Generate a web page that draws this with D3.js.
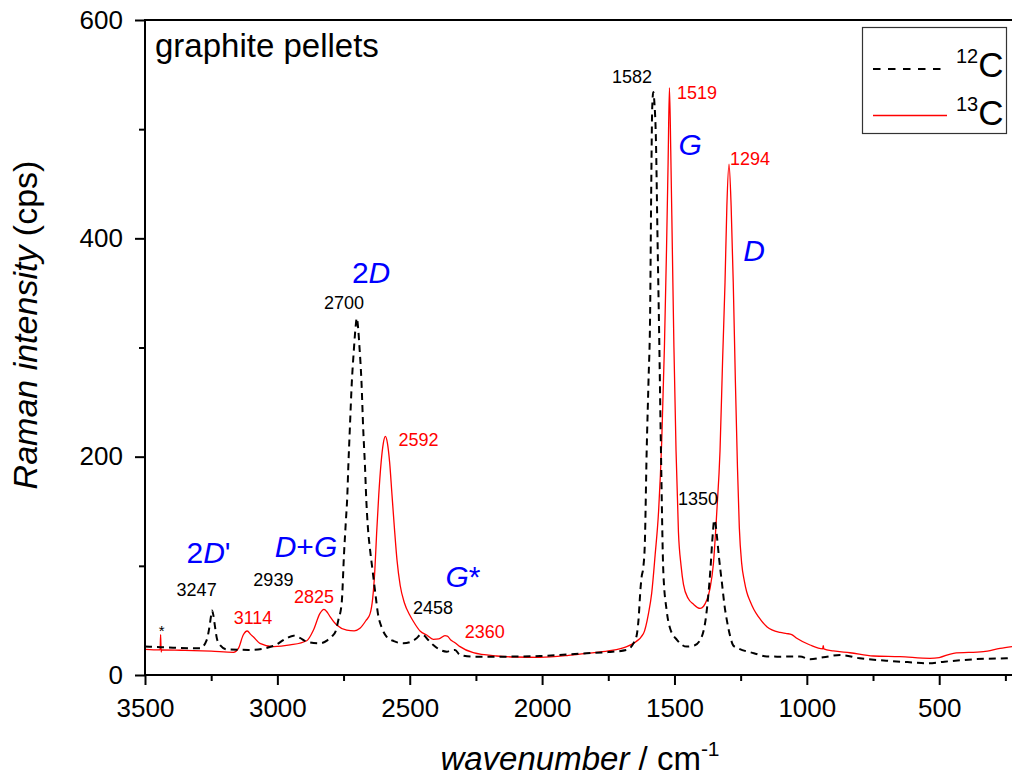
<!DOCTYPE html>
<html><head><meta charset="utf-8">
<script src="https://cdn.jsdelivr.net/npm/d3@7"></script>
<style>
body{margin:0;background:#fff;}
svg{display:block;font-family:Arial,"Liberation Sans",sans-serif;}
</style>
</head><body>
<svg id="chart" width="1012" height="780"></svg>
<script>
// ---- data ----
const c12Wavenumber = [3500,3440,3394,3292,3267,3256,3250,3247,3242,3236,3228,3217,3191,3103,3016,2965,2939,2915,2889,2839,2810,2795,2780,2770,2757,2748,2741,2736,2732,2726,2719,2711,2704,2700,2695,2690,2682,2676,2669,2664,2658,2650,2640,2630,2620,2605,2587,2560,2524,2490,2474,2458,2448,2430,2411,2385,2360,2345,2329,2310,2260,2172,2008,1831,1750,1680,1655,1643,1636,1628,1624,1618,1612,1605,1598,1592,1588,1584,1580,1576,1570,1564,1558,1551,1542,1530,1517,1490,1454,1425,1403,1380,1365,1355,1350,1346,1340,1332,1321,1310,1302,1290,1278,1260,1200,1151,1100,1026,988,938,874,800,700,600,547,480,370,245,225];
const c12Intensity  = [26,25.5,25,24.4,32,45,55,59,55,45,33,27.5,23.5,23,26.5,33.6,36,34,30.5,29,32,35,40,50,66,112,142,163,191,227,267,298,320,327,318,301,267,227,191,160,135,115,95,75,56,43,35,31,29,31,33.6,37,36.6,32,27.5,23,21.4,22.5,23,18.3,16.8,16.8,17.4,19.9,21,23,29,36,50,80,90,98,120,205,270,330,440,520,534,525,490,400,315,205,94,60,43,32,26,27,32,55,94,130,142,140,128,108,85,62,50,36,27,24.5,20,17,16.8,17,14.4,16.2,18.3,15.3,13.1,11.5,10.7,12.2,14.4,15.3,15.5];

const c13Wavenumber = [3500,3443,3441,3439,3437,3350,3250,3166,3147,3129,3114,3100,3091,3066,3015,2952,2889,2864,2839,2824,2810,2801,2776,2738,2710,2688,2665,2650,2640,2632,2625,2617,2608,2600,2592,2584,2576,2567,2558,2548,2536,2520,2500,2486,2460,2436,2411,2390,2367,2358,2345,2329,2310,2260,2172,2100,2008,1900,1831,1750,1680,1655,1617,1598,1586,1573,1560,1548,1538,1530,1524,1519,1514,1508,1502,1494,1485,1475,1466,1448,1429,1403,1390,1378,1365,1353,1340,1328,1318,1309,1302,1294,1286,1278,1270,1262,1255,1246,1236,1227,1215,1200,1183,1150,1101,1076,1057,1038,988,940,938,936,900,837,749,648,535,500,446,333,270,225];
const c13Intensity  = [23.5,23,37,21,23,22.6,21.8,20.8,24.4,36.6,40.3,37,35,29,26,27.5,31.4,41,56.5,60.2,57,53.4,45.8,41.2,40.5,42.8,50,56,70,95,130,165,195,212,218.5,212,195,165,135,105,82,66,55,49,40,36.6,32.7,33,36,35.7,32,29.6,26,20.4,17.4,16.5,16.2,18,19.9,22,26,29,38,56.5,75,110,150,215,300,390,470,538,480,390,300,205,131,100,83,70,65,61,63,68.7,80,101.7,150,205,290,360,430,468,430,360,270,190,135,102,86,76,68,60,53.4,44,39,38,37,33.6,27.5,24,27,24,22,20.4,17.4,16.8,15.3,16,19.9,21.4,24.4,26];

const xTickValues = [3500,3000,2500,2000,1500,1000,500];
const xMinorTickValues = [3250,2750,2250,1750,1250,750,250];
const yTickValues = [0,200,400,600];
const yMinorTickValues = [100,300,500];

const c12PeakLabels = ["3247","2939","2700","2458","1582","1350"];
const c13PeakLabels = ["3114","2825","2592","2360","1519","1294"];
const bandLabels = ["2D'","D+G","2D","G*","G","D"];

// ---- chart ----
const svg = d3.select("#chart");
const x = d3.scaleLinear().domain([3500, 225]).range([145, 1012]);
const y = d3.scaleLinear().domain([0, 600]).range([675, 20]);

const line = d3.line().x(d => x(d[0])).y(d => y(d[1])).curve(d3.curveMonotoneX);
const c12 = c12Wavenumber.map((w, i) => [w, c12Intensity[i]]);
const c13 = c13Wavenumber.map((w, i) => [w, c13Intensity[i]]);

svg.append("path").datum(c13).attr("d", line)
  .attr("fill", "none").attr("stroke", "#ff0000").attr("stroke-width", 1.3);
svg.append("path").datum(c12).attr("d", line)
  .attr("fill", "none").attr("stroke", "#000").attr("stroke-width", 2)
  .attr("stroke-dasharray", "7,5");

// axes
const xAxis = svg.append("g").attr("transform", "translate(0,675)")
  .call(d3.axisBottom(x).tickValues(xTickValues).tickSize(10).tickPadding(14).tickFormat(d3.format("d")));
const xMinor = svg.append("g").attr("transform", "translate(0,675)")
  .call(d3.axisBottom(x).tickValues(xMinorTickValues).tickSize(6).tickFormat(""));
const yAxis = svg.append("g").attr("transform", "translate(145,0)")
  .call(d3.axisLeft(y).tickValues(yTickValues).tickSize(10).tickPadding(12).tickFormat(d3.format("d")));
const yMinor = svg.append("g").attr("transform", "translate(145,0)")
  .call(d3.axisLeft(y).tickValues(yMinorTickValues).tickSize(6).tickFormat(""));
[xAxis, xMinor, yAxis, yMinor].forEach(g => {
  g.select(".domain").remove();
  g.selectAll(".tick line").attr("stroke", "#000").attr("stroke-width", 2);
  g.selectAll(".tick text").attr("font-size", 26).attr("fill", "#000")
    .attr("font-family", "Arial, 'Liberation Sans', sans-serif");
});

// frame
svg.append("line").attr("x1", 145).attr("x2", 1012).attr("y1", 675).attr("y2", 675).attr("stroke", "#000").attr("stroke-width", 2);
svg.append("line").attr("x1", 145).attr("x2", 145).attr("y1", 20).attr("y2", 676).attr("stroke", "#000").attr("stroke-width", 2);
svg.append("line").attr("x1", 144).attr("x2", 1012).attr("y1", 20).attr("y2", 20).attr("stroke", "#000").attr("stroke-width", 2);

// axis titles
const xt = svg.append("text").attr("x", 580).attr("y", 770).attr("text-anchor", "middle").attr("font-size", 33);
xt.append("tspan").attr("font-style", "italic").text("wavenumber");
xt.append("tspan").text(" / cm");
xt.append("tspan").attr("font-size", 21).attr("dy", -14).text("-1");

const yt = svg.append("text").attr("transform", "translate(37,325) rotate(-90)")
  .attr("text-anchor", "middle").attr("font-size", 34);
yt.append("tspan").attr("font-style", "italic").text("Raman intensity");
yt.append("tspan").text(" (cps)");

svg.append("text").attr("x", 155).attr("y", 57).attr("font-size", 33).text("graphite pellets");

// peak labels (anchor in data coordinates)
const c12LabelPos = [[3305,72.4],[3015,81.8],[2748,335],[2412,55.9],[1660,542],[1411,155.7]];
const c13LabelPos = [[3092,46.7],[2862,66],[2467,209.8],[2217,34.2],[1415,527.6],[1214.5,467.2]];
c12PeakLabels.forEach((t, i) => svg.append("text").attr("x", x(c12LabelPos[i][0])).attr("y", y(c12LabelPos[i][1]))
  .attr("text-anchor", "middle").attr("font-size", 18).attr("fill", "#000").text(t));
c13PeakLabels.forEach((t, i) => svg.append("text").attr("x", x(c13LabelPos[i][0])).attr("y", y(c13LabelPos[i][1]))
  .attr("text-anchor", "middle").attr("font-size", 18).attr("fill", "#ff0000").text(t));
svg.append("text").attr("x", x(3437)).attr("y", y(36)).attr("text-anchor", "middle").attr("font-size", 15).text("*");

// band labels (mixed italic)
const bandPos = [[3260,102.9],[2892,108.4],[2646,358.8],[2299,80.9],[1441,476.3],[1199,379.2]];
const bandParts = {
  "2D'": [["2",false],["D",true],["'",false]],
  "D+G": [["D",true],["+",false],["G",true]],
  "2D":  [["2",false],["D",true]],
  "G*":  [["G",true],["*",false]],
  "G":   [["G",true]],
  "D":   [["D",true]]
};
bandLabels.forEach((b, i) => {
  const t = svg.append("text").attr("x", x(bandPos[i][0])).attr("y", y(bandPos[i][1]))
    .attr("text-anchor", "middle").attr("font-size", 30).attr("fill", "#0000ff");
  bandParts[b].forEach(p => t.append("tspan").attr("font-style", p[1] ? "italic" : "normal").text(p[0]));
});

// legend
svg.append("rect").attr("x", 862.5).attr("y", 27.5).attr("width", 144).attr("height", 106)
  .attr("fill", "#fff").attr("stroke", "#333").attr("stroke-width", 1.2);
svg.append("line").attr("x1", 873).attr("x2", 947).attr("y1", 69).attr("y2", 69)
  .attr("stroke", "#000").attr("stroke-width", 2).attr("stroke-dasharray", "7.5,7.5");
svg.append("line").attr("x1", 873).attr("x2", 947).attr("y1", 115.5).attr("y2", 115.5)
  .attr("stroke", "#ff0000").attr("stroke-width", 1.3);
const legendNames = [["12","C"],["13","C"]];
[77, 125].forEach((by, i) => {
  const t = svg.append("text").attr("x", 956).attr("y", by).attr("font-size", 35);
  t.append("tspan").attr("font-size", 20).attr("dy", -14).text(legendNames[i][0]);
  t.append("tspan").attr("dy", 14).text(legendNames[i][1]);
});
</script>
</body></html>
